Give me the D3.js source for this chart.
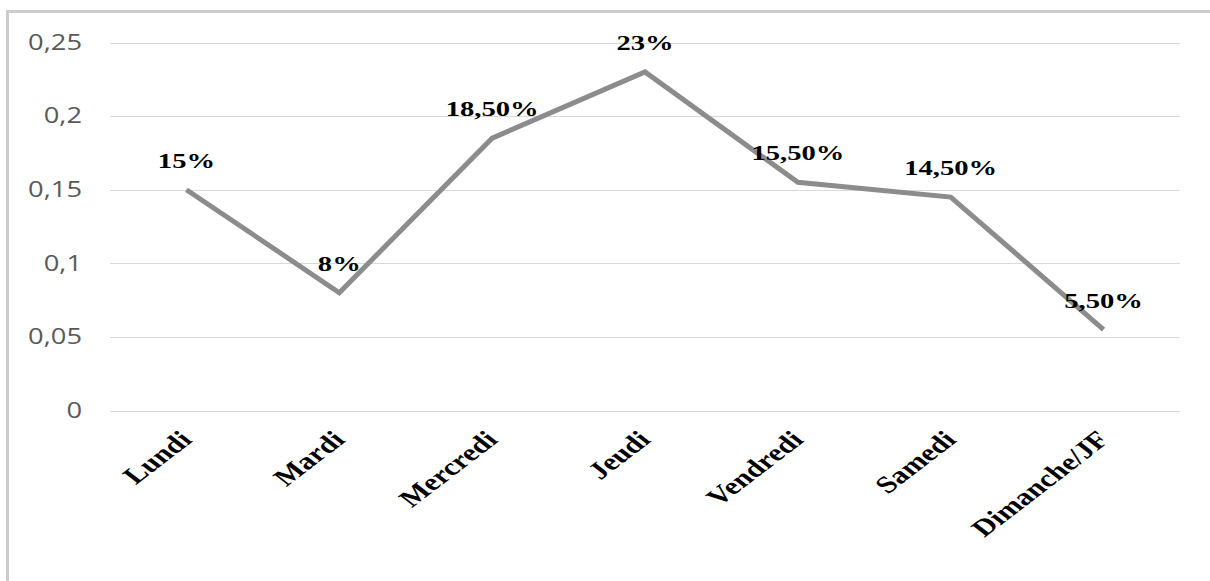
<!DOCTYPE html>
<html><head><meta charset="utf-8">
<script src="https://cdn.jsdelivr.net/npm/d3@7"></script>
<style>html,body{margin:0;padding:0;background:#fff;}svg{display:block;}</style>
</head><body>
<svg id="chart" width="1210" height="581"></svg>
<script>
const categories = ["Lundi","Mardi","Mercredi","Jeudi","Vendredi","Samedi","Dimanche/JF"];
const values = [0.15, 0.08, 0.185, 0.23, 0.155, 0.145, 0.055];
const valueLabels = ["15%","8%","18,50%","23%","15,50%","14,50%","5,50%"];
const yTicks = [0, 0.05, 0.1, 0.15, 0.2, 0.25];
const yTickLabels = ["0","0,05","0,1","0,15","0,2","0,25"];

const svg = d3.select("#chart");
const SX = 1.3;
const W = 1210, H = 581;

// frame border (top and left)
svg.append("line").attr("x1",7.5).attr("x2",W).attr("y1",11.5).attr("y2",11.5)
  .attr("stroke","#cccccc").attr("stroke-width",3);
svg.append("line").attr("x1",7.5).attr("x2",7.5).attr("y1",10).attr("y2",H)
  .attr("stroke","#cccccc").attr("stroke-width",3);

const x = d3.scaleBand().domain(categories).range([110,1180]);
const y = d3.scaleLinear().domain([0,0.25]).range([410.5,42.5]);

// gridlines
svg.append("g").selectAll("line").data(yTicks).join("line")
  .attr("x1",110).attr("x2",1180)
  .attr("y1",d=>Math.round(y(d))+0.5).attr("y2",d=>Math.round(y(d))+0.5)
  .attr("stroke","#d9d9d9").attr("stroke-width",1.2);

// y axis labels
const yAxis = d3.axisLeft(y).tickValues(yTicks).tickFormat((d,i)=>yTickLabels[i]).tickSize(0);
const ya = svg.append("g").attr("transform","translate(82,0)").call(yAxis);
ya.select(".domain").remove();
ya.selectAll("text")
  .attr("font-family","'Open Sans', sans-serif").attr("font-size",21).attr("fill","#595959")
  .attr("x",0).attr("dy","0.35em");
ya.selectAll(".tick").each(function(d){
  const g = d3.select(this);
  g.attr("transform",`translate(0,${y(d)})`);
  g.select("text").attr("transform",`scale(${SX},1)`).attr("x",0);
});

// x axis labels
const xg = svg.append("g");
xg.selectAll("text").data(categories).join("text")
  .attr("transform",d=>`translate(${x(d)+x.bandwidth()/2+7},441) scale(${SX},1) rotate(-45)`)
  .attr("text-anchor","end")
  .attr("font-family","'Liberation Serif', 'Times New Roman', serif")
  .attr("font-weight","bold").attr("font-size",24).attr("fill","#000")
  .text(d=>d);

// line
const line = d3.line().x((d,i)=>x(categories[i])+x.bandwidth()/2).y(d=>y(d));
svg.append("path").datum(values).attr("d",line)
  .attr("fill","none").attr("stroke","#8c8c8c").attr("stroke-width",5)
  .attr("stroke-linejoin","miter").attr("stroke-linecap","butt");

// data labels
svg.append("g").selectAll("text").data(values).join("text")
  .attr("transform",(d,i)=>`translate(${x(categories[i])+x.bandwidth()/2},${y(d)-22}) scale(${SX},1)`)
  .attr("text-anchor","middle")
  .attr("font-family","'Liberation Serif', 'Times New Roman', serif")
  .attr("font-weight","bold").attr("font-size",22).attr("fill","#000")
  .text((d,i)=>valueLabels[i]);
</script>
</body></html>
